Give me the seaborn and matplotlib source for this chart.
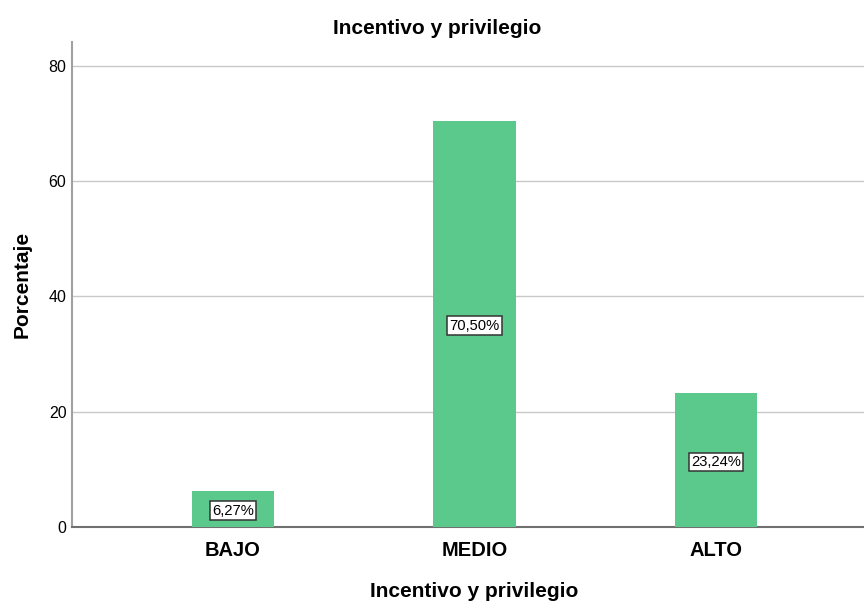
import matplotlib
matplotlib.use("Agg")
import matplotlib.pyplot as plt
import seaborn as sns
import pandas as pd

categories = ["BAJO", "MEDIO", "ALTO"]
percentages = [6.27, 70.50, 23.24]
value_labels = ["6,27%", "70,50%", "23,24%"]
y_ticks = [0, 20, 40, 60, 80]

sns.set_theme(style="white")
plt.rcParams["font.family"] = ["Liberation Sans", "DejaVu Sans"]
plt.rcParams["text.color"] = "black"
plt.rcParams["axes.labelcolor"] = "black"
plt.rcParams["xtick.color"] = "black"
plt.rcParams["ytick.color"] = "black"

df = pd.DataFrame({"cat": categories, "pct": percentages})

fig = plt.figure(figsize=(8.64, 6.04), dpi=100)
ax = fig.add_axes([72 / 864, 77 / 604, 1 - 72 / 864, (527 - 42) / 604])

sns.barplot(data=df, x="cat", y="pct", order=categories, color="#5BC98B",
            width=0.34, saturation=1, linewidth=0, ax=ax, zorder=3)

for p, lab, v in zip(ax.patches, value_labels, percentages):
    cx = p.get_x() + p.get_width() / 2
    ax.text(cx, v / 2 - 0.3, lab, ha="center", va="center", fontsize=10.6,
            color="black", zorder=5,
            bbox=dict(boxstyle="square,pad=0.15", facecolor="white",
                      edgecolor="#333333", linewidth=1.1))

ax.set_ylim(0, 84.16)
ax.set_xlim(-0.667, 2.613)
ax.set_yticks(y_ticks)
ax.set_yticklabels([str(t) for t in y_ticks], fontsize=11.5)
ax.yaxis.grid(True, color="#c8c8c8", linewidth=1.0, zorder=0)
ax.xaxis.grid(False)
ax.tick_params(axis="both", length=0)
ax.tick_params(axis="y", pad=4)
ax.tick_params(axis="x", pad=10)
for t in ax.get_xticklabels():
    t.set_fontsize(14.5)
    t.set_fontweight("bold")

for side in ["top", "right"]:
    ax.spines[side].set_visible(False)
ax.spines["left"].set_color("#a0a0a0")
ax.spines["left"].set_linewidth(1.5)
ax.spines["bottom"].set_color("#707070")
ax.spines["bottom"].set_linewidth(1.5)

ax.set_xlabel("Incentivo y privilegio", fontsize=15, fontweight="bold", labelpad=16)
ax.xaxis.label.set_x((474 - 72) / 792)
ax.set_ylabel("Porcentaje", fontsize=15, fontweight="bold", labelpad=12)
fig.text(437 / 864, 1 - 28 / 604, "Incentivo y privilegio", fontsize=15,
         fontweight="bold", ha="center", va="center")

fig.savefig("out.png", dpi=100)
